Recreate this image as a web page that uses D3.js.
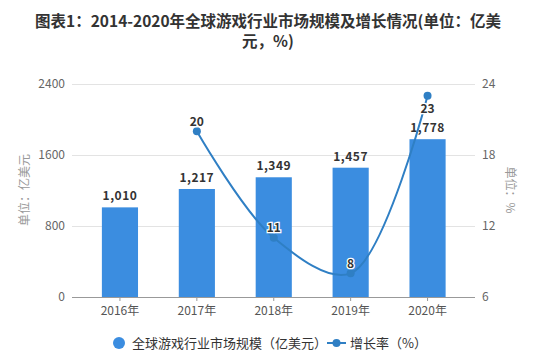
<!DOCTYPE html>
<html><head><meta charset="utf-8">
<script src="https://cdn.jsdelivr.net/npm/d3@7/dist/d3.min.js"></script>
<style>body{margin:0;background:#fff}svg{display:block}text{font-family:"Noto Sans CJK SC","Noto Sans",sans-serif}</style>
</head><body><svg id="c" width="536" height="351"></svg>
<script>
const categories = ["2016年","2017年","2018年","2019年","2020年"];
const marketSize = [1010,1217,1349,1457,1778];
const growthYears = ["2017年","2018年","2019年","2020年"];
const growthRate = [20,11,8,23];
const leftTicks = [0,800,1600,2400];
const rightTicks = [6,12,18,24];
const titleLines = ["图表1：2014-2020年全球游戏行业市场规模及增长情况(单位：亿美","元，%)"];

const svg = d3.select("#c");
const L = 72, R = 475, T = 84, B = 297;
const x = d3.scaleBand().domain(categories).range([81.5, 466]).paddingInner(0.53).paddingOuter(0.265);
const y = d3.scaleLinear().domain([0,2400]).range([B,T]);
const y2 = d3.scaleLinear().domain([6,24]).range([B,T]);

svg.selectAll(".title").data(titleLines).join("text")
  .attr("x",268).attr("y",(d,i)=>27+i*20).attr("text-anchor","middle")
  .attr("font-size",15.5).attr("font-weight","bold").attr("fill","#333").text(d=>d);

// grid
svg.append("g").selectAll("line").data(leftTicks.slice(1)).join("line")
  .attr("x1",L).attr("x2",R).attr("y1",d=>y(d)+0.5).attr("y2",d=>y(d)+0.5)
  .attr("stroke","#e3e3e3");

// axis labels
svg.append("g").selectAll("text").data(leftTicks).join("text")
  .attr("x",65).attr("y",d=>y(d)).attr("dy","0.35em").attr("text-anchor","end")
  .attr("font-size",12).attr("fill","#666").text(d=>d);
svg.append("g").selectAll("text").data(rightTicks).join("text")
  .attr("x",482).attr("y",d=>y2(d)).attr("dy","0.35em")
  .attr("font-size",12).attr("fill","#666").text(d=>d);

svg.append("text").attr("transform","translate(29,190) rotate(-90)").attr("text-anchor","middle")
  .attr("font-size",12).attr("fill","#999").text("单位：亿美元");
svg.append("text").attr("transform","translate(506,190) rotate(90)").attr("text-anchor","middle")
  .attr("font-size",12).attr("fill","#999").text("单位：%");

// bars
svg.append("g").selectAll("rect").data(marketSize).join("rect")
  .attr("x",(d,i)=>x(categories[i])).attr("width",x.bandwidth())
  .attr("y",d=>y(d)).attr("height",d=>B-y(d)).attr("fill","#3b8de0");

// x axis
const xa = svg.append("g").attr("transform",`translate(0,${B})`)
  .call(d3.axisBottom(x).tickSize(4).tickSizeOuter(0));
xa.select(".domain").attr("d",`M${L},0.5H${R}`).attr("stroke","#999");
xa.selectAll(".tick line").attr("stroke","#999");
xa.selectAll(".tick text").attr("font-size",12).attr("fill","#555").attr("dy","0.9em")
  .style("font-family",'"Noto Sans CJK SC",sans-serif');

// bar labels
svg.append("g").selectAll("text").data(marketSize).join("text")
  .attr("x",(d,i)=>x(categories[i])+x.bandwidth()/2).attr("y",d=>y(d)-7)
  .attr("text-anchor","middle").attr("font-size",12).attr("font-weight","bold")
  .attr("fill","#333").attr("letter-spacing","0.5").text(d=>d3.format(",")(d));

// line
const cx = (c)=>x(c)+x.bandwidth()/2;
const pts = growthRate.map((v,i)=>[cx(growthYears[i]), y2(v)]);
svg.append("path").attr("d", d3.line().curve(d3.curveCatmullRom.alpha(0.5))(pts))
  .attr("fill","none").attr("stroke","#2f7fc4").attr("stroke-width",2);
svg.append("g").selectAll("circle").data(pts).join("circle")
  .attr("cx",d=>d[0]).attr("cy",d=>d[1]).attr("r",4).attr("fill","#2f7fc4");
const offs = [-10,-10,-10,13];
svg.append("g").selectAll("text").data(growthRate).join("text")
  .attr("x",(d,i)=>pts[i][0]).attr("y",(d,i)=>pts[i][1]+offs[i]).attr("dy","0.35em")
  .attr("text-anchor","middle").attr("font-size",12).attr("font-weight","bold")
  .attr("fill","#333").attr("stroke","#fff").attr("stroke-width",2.5).attr("paint-order","stroke")
  .text(d=>d);

// legend
const lg = svg.append("g");
lg.append("circle").attr("cx",119).attr("cy",343).attr("r",6).attr("fill","#3b8de0");
lg.append("text").attr("x",132).attr("y",343).attr("dy","0.35em").attr("font-size",13).attr("fill","#333").text("全球游戏行业市场规模（亿美元）");
lg.append("line").attr("x1",327).attr("x2",346).attr("y1",343).attr("y2",343).attr("stroke","#2f7fc4").attr("stroke-width",2);
lg.append("circle").attr("cx",336.5).attr("cy",343).attr("r",4).attr("fill","#2f7fc4");
lg.append("text").attr("x",350).attr("y",343).attr("dy","0.35em").attr("font-size",13).attr("fill","#333").text("增长率（%）");
</script></body></html>
